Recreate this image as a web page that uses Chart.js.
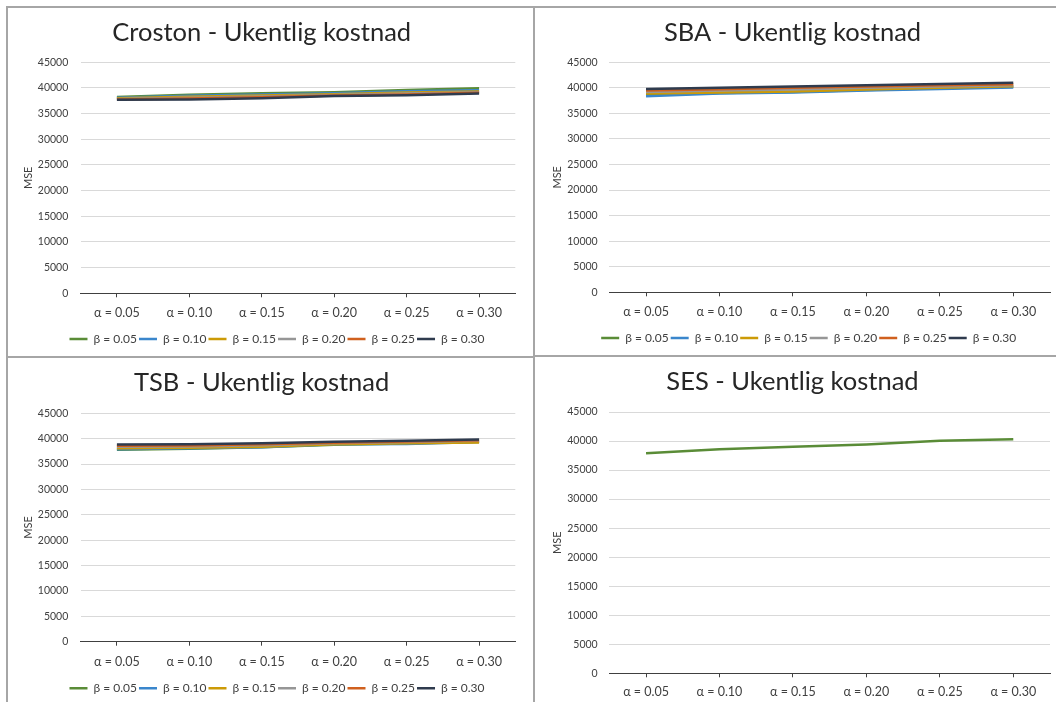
<!DOCTYPE html>
<html><head><meta charset="utf-8">
<script src="https://cdn.jsdelivr.net/npm/chart.js@4/dist/chart.umd.min.js"></script>
<style>
html,body{margin:0;padding:0;background:#fff;overflow:hidden;width:1056px;height:702px;position:relative;}
.panel{position:absolute;}
.panel canvas{display:block;}
.rule{position:absolute;background:#A6A6A6;}
</style></head><body>
<div class="panel" id="p1" style="left:8px;top:8px;width:525px;height:348px"><canvas id="c1"></canvas></div>
<div class="panel" id="p2" style="left:535px;top:8px;width:521px;height:347px"><canvas id="c2"></canvas></div>
<div class="panel" id="p3" style="left:8px;top:358px;width:525px;height:350px"><canvas id="c3"></canvas></div>
<div class="panel" id="p4" style="left:535px;top:357px;width:521px;height:350px"><canvas id="c4"></canvas></div>
<div class="rule" style="left:6px;top:6px;width:1050px;height:2px"></div>
<div class="rule" style="left:6px;top:6px;width:2px;height:696px"></div>
<div class="rule" style="left:533px;top:6px;width:2px;height:696px"></div>
<div class="rule" style="left:6px;top:356px;width:529px;height:2px"></div>
<div class="rule" style="left:533px;top:355px;width:523px;height:2px"></div>
<script>
// ---- data ----
const alphaLabels = ['α = 0.05', 'α = 0.10', 'α = 0.15', 'α = 0.20', 'α = 0.25', 'α = 0.30'];
const betaLabels = ['β = 0.05', 'β = 0.10', 'β = 0.15', 'β = 0.20', 'β = 0.25', 'β = 0.30'];
const yTicks = [0, 5000, 10000, 15000, 20000, 25000, 30000, 35000, 40000, 45000];

// Croston: one row per beta, values per alpha
const crostonMSE = [
  [38250, 38700, 38950, 39150, 39600, 39950],
  [38100, 38500, 38750, 38950, 39350, 39550],
  [38000, 38300, 38550, 38800, 39100, 39300],
  [37850, 38100, 38350, 38650, 38900, 39150],
  [37750, 37950, 38200, 38550, 38750, 39050],
  [37700, 37750, 38000, 38450, 38600, 38900]
];
const sbaMSE = [
  [38600, 39000, 39200, 39600, 39900, 40200],
  [38350, 38900, 39100, 39500, 39800, 40050],
  [38900, 39100, 39300, 39700, 40000, 40300],
  [39200, 39500, 39700, 40000, 40250, 40500],
  [39500, 39750, 40000, 40250, 40500, 40700],
  [39800, 40000, 40250, 40500, 40750, 41000]
];
const tsbMSE = [
  [37800, 38000, 38300, 38800, 39050, 39400],
  [37900, 38100, 38300, 38900, 38950, 39350],
  [38100, 38200, 38400, 38900, 39100, 39250],
  [38400, 38450, 38700, 39100, 39350, 39600],
  [38600, 38650, 38900, 39200, 39450, 39700],
  [38850, 38900, 39100, 39400, 39600, 39850]
];
const sesMSE = [37900, 38600, 39000, 39400, 40050, 40300];

const seriesColors = ['#5A8C37', '#3A86CC', '#CC9A06', '#969696', '#D0601E', '#2F3B4E'];

// ---- chart building ----
const FONT = 'Lato, "Open Sans", sans-serif';
const TEXT = '#404040';

function makeChart(id, title, rows, labels, geo) {
  const el = document.getElementById(id);
  const panel = el.parentElement;
  const cw = panel.offsetWidth, ch = panel.offsetHeight;
  const L = panel.offsetLeft, T = panel.offsetTop;
  const titleSize = 25.5, titleLH = titleSize * 1.2;
  const tc = geo.titleC - T, pTop = geo.plotTop - T, pBot = geo.plotBottom - T;
  const pLeft = geo.plotLeft - L, pRight = geo.plotRight - L;
  const fs = 11, xFs = 12.5, legFs = 12, legPad = 2;
  const hasLegend = labels.length > 0;
  let legBottom, xAxisH;
  if (hasLegend) {
    legBottom = geo.legendC - T + 10 + legFs / 2;
    const legTop = legBottom - (legFs + legPad + 10);
    xAxisH = legTop - pBot;
  } else {
    legBottom = ch;
    xAxisH = ch - pBot;
  }
  const xPad = (geo.xLabelC - T) - pBot - 4 - xFs * 1.2 / 2;
  const datasets = rows.map((r, i) => ({
    label: hasLegend ? labels[i] : 'MSE',
    data: r,
    borderColor: seriesColors[i],
    backgroundColor: seriesColors[i],
    borderWidth: 2.5,
    pointRadius: 0,
    tension: 0,
    fill: false,
    order: rows.length - i
  }));
  const legendShift = {
    id: 'legendShift',
    afterLayout(chart) {
      if (!hasLegend || !chart.legend) return;
      const target = geo.legendX - L;
      const cur = (chart.legend.left + chart.legend.right) / 2;
      const dx = target - cur;
      chart.legend.left += dx; chart.legend.right += dx;
    }
  };
  return new Chart(el, {
    type: 'line',
    data: { labels: alphaLabels, datasets },
    plugins: [legendShift],
    options: {
      responsive: true,
      maintainAspectRatio: false,
      animation: false,
      layout: { padding: { left: 0, top: 0, right: cw - pRight, bottom: ch - legBottom } },
      plugins: {
        title: {
          display: true, text: title, color: '#262626',
          font: { family: FONT, size: titleSize, weight: 'normal' },
          padding: { top: tc - titleLH / 2, bottom: pTop - tc - titleLH / 2 }
        },
        legend: {
          display: hasLegend, position: 'bottom',
          labels: {
            usePointStyle: true, pointStyle: 'line', pointStyleWidth: 18,
            boxHeight: legFs, padding: legPad, color: TEXT,
            font: { family: FONT, size: legFs },
            sort: (a, b) => a.datasetIndex - b.datasetIndex
          }
        },
        tooltip: { enabled: false }
      },
      scales: {
        x: {
          offset: true,
          afterFit: s => { s.height = xAxisH; },
          grid: { display: true, offset: false, drawOnChartArea: false, drawTicks: true, tickLength: 4, color: '#404040' },
          border: { display: true, color: '#404040', width: 1 },
          ticks: { color: TEXT, font: { family: FONT, size: xFs }, padding: xPad, maxRotation: 0, autoSkip: false }
        },
        y: {
          min: 0, max: 45000,
          afterFit: s => { s.width = pLeft; },
          afterBuildTicks: s => { s.ticks = yTicks.map(v => ({ value: v })); },
          grid: { color: '#D9D9D9', drawTicks: false, lineWidth: 1 },
          border: { display: false },
          ticks: { color: TEXT, font: { family: FONT, size: 10.5 }, padding: geo.plotLeft - geo.yLabelR, callback: v => String(v) },
          title: { display: true, text: 'MSE', color: TEXT, font: { family: FONT, size: fs }, padding: { top: geo.mseX - L - fs * 1.2 / 2, bottom: 0 } }
        }
      }
    }
  });
}

makeChart('c1', 'Croston - Ukentlig kostnad', crostonMSE, betaLabels,
  { titleC: 32.5, plotTop: 62.3, plotBottom: 293.3, plotLeft: 80.7, plotRight: 515.3, xLabelC: 313, legendC: 339, legendX: 277, yLabelR: 68.3, mseX: 28.7 });
makeChart('c2', 'SBA - Ukentlig kostnad', sbaMSE, betaLabels,
  { titleC: 32.5, plotTop: 62.3, plotBottom: 292.3, plotLeft: 609.3, plotRight: 1050, xLabelC: 312, legendC: 338, legendX: 808.7, yLabelR: 597.7, mseX: 557.3 });
makeChart('c3', 'TSB - Ukentlig kostnad', tsbMSE, betaLabels,
  { titleC: 383, plotTop: 413.3, plotBottom: 641.7, plotLeft: 80.7, plotRight: 515.3, xLabelC: 661.7, legendC: 688.3, legendX: 277, yLabelR: 68.3, mseX: 28.7 });
makeChart('c4', 'SES - Ukentlig kostnad', [sesMSE], [],
  { titleC: 382, plotTop: 412, plotBottom: 673.3, plotLeft: 609.3, plotRight: 1050, xLabelC: 691.7, legendC: 0, legendX: 0, yLabelR: 597.7, mseX: 557.3 });
</script>
</body></html>
